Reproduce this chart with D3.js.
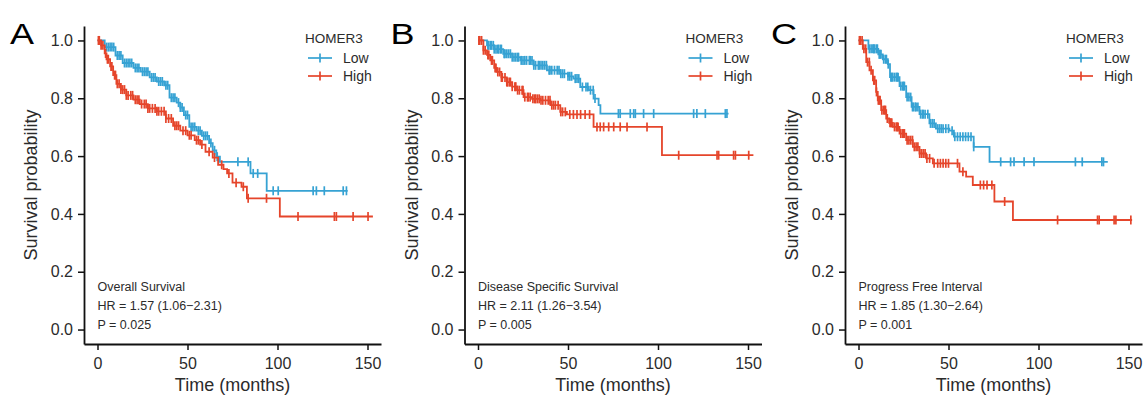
<!DOCTYPE html>
<html>
<head>
<meta charset="utf-8">
<script src="https://cdn.jsdelivr.net/npm/d3@7"></script>
<style>
  body { margin: 0; background: #fff; }
  text { font-family: "Liberation Sans", Arial, sans-serif; }
</style>
</head>
<body>
<div id="chart"></div>
<script>
// tick labels
const timeTicks = [0, 50, 100, 150];
const survTicks = [0, 0.2, 0.4, 0.6, 0.8, 1.0];

// panel texts
const panelLetters = ["A", "B", "C"];
const endpointNames = ["Overall Survival", "Disease Specific Survival", "Progress Free Interval"];
const hrLabels = ["HR = 1.57 (1.06\u22122.31)", "HR = 2.11 (1.26\u22123.54)", "HR = 1.85 (1.30\u22122.64)"];
const pLabels = ["P = 0.025", "P = 0.005", "P = 0.001"];
const legendTitle = "HOMER3";
const groupNames = ["Low", "High"];

const osLowSteps = [[0,1],[4,0.977],[10,0.948],[14,0.922],[20,0.905],[24,0.892],[29,0.872],[33,0.858],[37,0.845],[40,0.802],[44,0.785],[46,0.768],[48,0.742],[51,0.701],[55,0.688],[58,0.67],[62,0.645],[64,0.62],[66,0.598],[68,0.58],[85,0.54],[94,0.48],[139,0.48]];
const osLowCensor = [5,6,7,8,9,11,12,13,15,16,17,18,19,21,22,23,25,26,27,28,30,31,32,34,35,36,38,39,41,42,43,45,46,47,49,50,52,53,54,56,57,59,60,61,63,65,66.5,78,83.7,86.5,89,97.6,100.4,119.8,121.6,126,136.5,138.3];
const osHighSteps = [[0,1],[2,0.983],[4,0.955],[5,0.935],[7,0.91],[8.7,0.88],[10.5,0.85],[13,0.83],[16,0.81],[20,0.795],[23.5,0.78],[28,0.765],[33,0.755],[38,0.73],[42,0.705],[46,0.688],[50,0.672],[54,0.655],[57,0.64],[60,0.615],[64,0.595],[67,0.57],[70,0.555],[72,0.54],[75,0.508],[80,0.494],[83,0.454],[101.3,0.391],[153,0.391]];
const osHighCensor = [0.5,1,2,3,4.5,5.5,6,7.5,8,9.5,10,11,12,13,14,15,16,17,18.5,19.5,21,22,23,24.5,26,27,28,29,30.5,32,33,34,35.5,37,38,39.5,41,43,44,45,47.5,49,51,52,55,56,58,62,65,69,73,77,81,83.7,93.9,111.4,131.6,132.7,142,150.3];

const dssLowSteps = [[0,1],[5,0.983],[9,0.97],[14,0.954],[19,0.942],[23.5,0.931],[30.9,0.914],[38.3,0.897],[45.7,0.885],[50,0.876],[53,0.868],[56.8,0.839],[61.5,0.828],[64.2,0.799],[67,0.776],[68,0.747],[139.2,0.747]];
const dssLowCensor = [5.5,6,7,7.5,8.5,9,10,11,11.5,12.5,13,14.5,15,16,17,18,19,20,21,22,22.5,24,25,26,27,28.5,29,30,31,32,33.5,34,35,36,37,38,39.5,40,41,42.5,44,45,46,47,48,50,51,52,54,55,56,58,60,61,62.5,64,65,78,79,84.6,86.5,87.4,92,97.6,119.8,121.6,126.3,137.4,138.3];
const dssHighSteps = [[0,1],[3,0.966],[5,0.95],[6.8,0.931],[9,0.905],[10.5,0.891],[13,0.872],[16,0.856],[19,0.84],[21.7,0.828],[25.3,0.804],[30,0.798],[34.6,0.793],[40.2,0.776],[45.7,0.753],[49.4,0.744],[64.2,0.701],[102.2,0.603],[153,0.603]];
const dssHighCensor = [0.5,1,2,3,4,5.5,6,7.5,8,9.5,10,11,12,13,13.5,15,16,16.5,17.5,18,19,20.5,21,22,23,24.5,25,26,27.5,28,29,30.5,31.5,32,33,34,35,36,37.5,39,40,41,42,43,44.5,46,47,48.5,51,53,55,57,59.5,62,66.1,67.9,69.8,72.6,75.4,79,82.8,93.9,111.5,132.8,133.7,142,143,150.4];

const pfiLowSteps = [[0,1],[5.5,0.971],[11,0.952],[13.5,0.935],[16.3,0.918],[17.5,0.873],[22.8,0.842],[26.5,0.804],[29.5,0.77],[33.9,0.745],[39.4,0.713],[43,0.695],[50.5,0.688],[53,0.667],[64,0.632],[72.8,0.58],[138.5,0.58]];
const pfiLowCensor = [6,7,8,8.5,9,10,10.5,11.5,12,12.5,14,15,15.5,16.5,18,18.5,19,20,21,21.5,22,23.5,24.5,25,25.5,27,28,29,30,30.5,31.5,32,33,34.5,35.5,36,37,38.5,40,41,42,44,45,46,47,48.5,50,52,53.5,55,56.5,58,59.5,61,62.5,64,79,84.5,86.4,92,97.5,120.5,124.3,135.2,136.1];
const pfiHighSteps = [[0,1],[2.4,0.971],[4.3,0.925],[6.1,0.897],[8,0.862],[9.8,0.822],[10.7,0.793],[12.6,0.759],[15.4,0.73],[17,0.715],[19.1,0.701],[22.8,0.678],[26.5,0.655],[30.2,0.632],[33.9,0.609],[37.6,0.592],[41.3,0.575],[56.1,0.546],[59.8,0.529],[63.5,0.5],[75.5,0.443],[85.8,0.379],[152,0.379]];
const pfiHighCensor = [0.5,1,2,3,4,5,6,7,8.5,9,10,11,11.5,12,13,14,14.5,15,16,17.5,18,18.5,20,21,21.5,22,23.5,24.5,25,25.5,27,28,29,30,31,32,33,34,35,36,37,38,39.5,42,44,45.5,47,48.5,50,55,58,67.7,69.5,71.4,74.1,81.2,110.6,132.8,133.7,142,143,151.3];

const panels = [
  { low: osLowSteps, lowC: osLowCensor, high: osHighSteps, highC: osHighCensor },
  { low: dssLowSteps, lowC: dssLowCensor, high: dssHighSteps, highC: dssHighCensor },
  { low: pfiLowSteps, lowC: pfiLowCensor, high: pfiHighSteps, highC: pfiHighCensor }
];

const colors = ["#36a2d3", "#e5452b"];
const width = 1144, height = 397;
const panelStep = 380.5;

const svg = d3.select("#chart").append("svg")
  .attr("width", width)
  .attr("height", height);

// survival at time t from step list
function survAt(steps, t) {
  let s = steps[0][1];
  for (const st of steps) { if (st[0] <= t) s = st[1]; }
  return s;
}

panels.forEach((p, i) => {
  const off = i * panelStep;
  const g = svg.append("g");

  const x = d3.scaleLinear().domain([-7.5, 157.5]).range([off + 84, off + 381]);
  const y = d3.scaleLinear().domain([-0.05, 1.05]).range([344, 26]);

  // axes
  const ax = g.append("g")
    .attr("transform", "translate(0,344)")
    .call(d3.axisBottom(x).tickValues(timeTicks).tickFormat(d3.format("d")).tickSize(6).tickSizeOuter(0));
  const ay = g.append("g")
    .attr("transform", "translate(" + (off + 84) + ",0)")
    .call(d3.axisLeft(y).tickValues(survTicks).tickFormat(d3.format(".1f")).tickSize(6).tickSizeOuter(0));
  [ax, ay].forEach(a => {
    a.select(".domain").attr("stroke", "#111").attr("stroke-width", 1.8);
    a.selectAll(".tick line").attr("stroke", "#111").attr("stroke-width", 1.5);
    a.selectAll(".tick text")
      .attr("fill", "#2b2b2b")
      .style("font-size", "16px")
      .style("font-family", "Liberation Sans, Arial, sans-serif");
  });
  ax.selectAll(".tick text").attr("dy", "1.0em");
  ay.selectAll(".tick text").attr("x", -11);

  // curves
  const line = d3.line()
    .x(d => x(d[0]))
    .y(d => y(d[1]))
    .curve(d3.curveStepAfter);

  [[p.low, p.lowC], [p.high, p.highC]].forEach((c, k) => {
    g.append("path")
      .datum(c[0])
      .attr("fill", "none")
      .attr("stroke", colors[k])
      .attr("stroke-width", 1.8)
      .attr("d", line);
    g.selectAll(".cens" + k)
      .data(c[1])
      .enter().append("line")
        .attr("class", "cens" + k)
        .attr("x1", d => x(d))
        .attr("x2", d => x(d))
        .attr("y1", d => y(survAt(c[0], d)) - 4.5)
        .attr("y2", d => y(survAt(c[0], d)) + 4.5)
        .attr("stroke", colors[k])
        .attr("stroke-width", 1.7);
  });

  // panel letter
  g.append("text")
    .attr("transform", "translate(" + (off + 10) + ",44) scale(1.2,1)")
    .style("font-size", "30px")
    .attr("fill", "#000")
    .text(panelLetters[i]);

  // axis titles
  g.append("text")
    .attr("x", x(75))
    .attr("y", 391)
    .attr("text-anchor", "middle")
    .attr("fill", "#2b2b2b")
    .style("font-size", "18px")
    .text("Time (months)");
  g.append("text")
    .attr("transform", "translate(" + (off + 37) + "," + y(0.5) + ") rotate(-90)")
    .attr("text-anchor", "middle")
    .attr("fill", "#2b2b2b")
    .style("font-size", "18px")
    .text("Survival probability");

  // annotation
  [endpointNames[i], hrLabels[i], pLabels[i]].forEach((t, j) => {
    g.append("text")
      .attr("x", x(0))
      .attr("y", 291 + j * 19)
      .attr("fill", "#2b2b2b")
      .style("font-size", "12.5px")
      .text(t);
  });

  // legend
  g.append("text")
    .attr("x", off + 305)
    .attr("y", 43)
    .attr("fill", "#2b2b2b")
    .style("font-size", "13.5px")
    .text(legendTitle);
  groupNames.forEach((name, k) => {
    const ly = 58 + k * 18;
    g.append("line")
      .attr("x1", off + 308).attr("x2", off + 332)
      .attr("y1", ly).attr("y2", ly)
      .attr("stroke", colors[k]).attr("stroke-width", 1.7);
    g.append("line")
      .attr("x1", off + 320).attr("x2", off + 320)
      .attr("y1", ly - 4.5).attr("y2", ly + 4.5)
      .attr("stroke", colors[k]).attr("stroke-width", 1.7);
    g.append("text")
      .attr("x", off + 343)
      .attr("y", ly + 5)
      .attr("fill", "#2b2b2b")
      .style("font-size", "14px")
      .text(name);
  });
});
</script>
</body>
</html>
